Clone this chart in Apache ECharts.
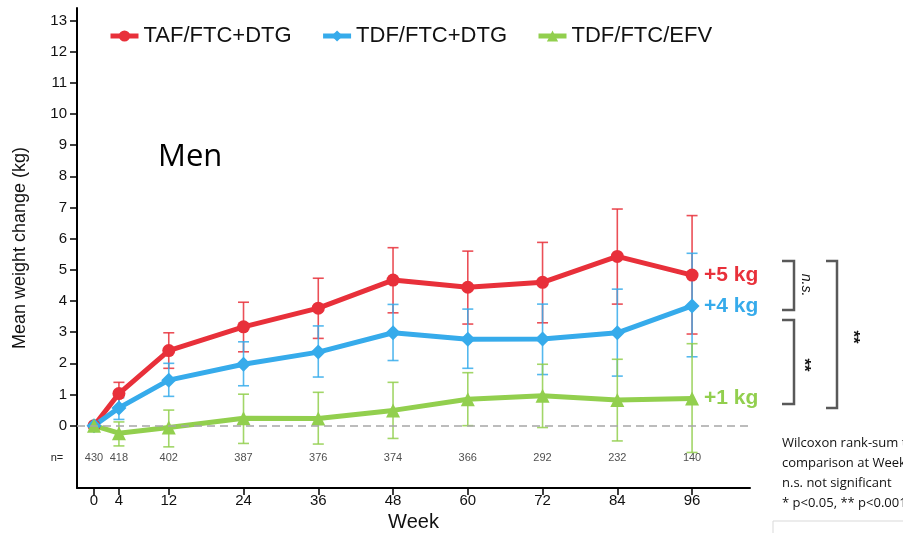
<!DOCTYPE html>
<html>
<head>
<meta charset="utf-8">
<script src="https://cdn.jsdelivr.net/npm/echarts@6/dist/echarts.min.js"></script>
<style>html,body{margin:0;padding:0;background:#fff;}#chart{width:903px;height:533px;}</style>
</head>
<body>
<div id="chart"></div>
<script>
// ---- data ----
const weeks = [0, 4, 12, 24, 36, 48, 60, 72, 84, 96];
const seriesNames = ['TAF/FTC+DTG', 'TDF/FTC+DTG', 'TDF/FTC/EFV'];
const tafMean = [0, 1.03, 2.41, 3.17, 3.77, 4.67, 4.44, 4.60, 5.43, 4.83];
const tafLow  = [0, 0.59, 1.84, 2.37, 2.80, 3.62, 3.26, 3.30, 3.90, 2.94];
const tafHigh = [0, 1.39, 2.98, 3.96, 4.73, 5.71, 5.60, 5.88, 6.95, 6.74];
const dtgMean = [0, 0.57, 1.46, 1.97, 2.36, 2.98, 2.77, 2.78, 2.98, 3.84];
const dtgLow  = [0, 0.20, 0.94, 1.28, 1.56, 2.09, 1.84, 1.64, 1.59, 2.21];
const dtgHigh = [0, 0.90, 2.00, 2.69, 3.20, 3.89, 3.74, 3.90, 4.38, 5.53];
const efvMean = [0, -0.24, -0.06, 0.24, 0.23, 0.49, 0.85, 0.96, 0.82, 0.87];
const efvLow  = [0, -0.65, -0.68, -0.57, -0.59, -0.41, 0.00, -0.06, -0.49, -0.86];
const efvHigh = [0, 0.12, 0.50, 1.01, 1.07, 1.39, 1.70, 1.97, 2.13, 2.63];
const nCounts = [430, 418, 402, 387, 376, 374, 366, 292, 232, 140];
const endLabels = ['+5 kg', '+4 kg', '+1 kg'];
const yTicks = [0,1,2,3,4,5,6,7,8,9,10,11,12,13];
const noteLines = ['Wilcoxon rank-sum test', 'comparison at Week 96', 'n.s. not significant', '* p<0.05, ** p<0.001'];

// ---- styling ----
const colors = ['#E8303A', '#36ABEB', '#92CF4E'];
const symbols = ['circle', 'diamond', 'triangle'];
const symbolSizes = [13, 15, 14];
const FONT = 'Liberation Sans, Arial, sans-serif';
const nRowY = -1.04;

const means = [tafMean, dtgMean, efvMean];
const lows = [tafLow, dtgLow, efvLow];
const highs = [tafHigh, dtgHigh, efvHigh];

const chart = echarts.init(document.getElementById('chart'), null, {renderer: 'canvas'});

const series = [];
// error bars
for (let s = 0; s < 3; s++) {
  const col = colors[s];
  series.push({
    type: 'custom',
    z: 1,
    silent: true,
    encode: {x: 0, y: [1, 2]},
    data: weeks.map((w, i) => [w, lows[s][i], highs[s][i]]).filter(d => d[1] !== d[2]),
    renderItem: function (params, api) {
      const x = api.value(0);
      const pLo = api.coord([x, api.value(1)]);
      const pHi = api.coord([x, api.value(2)]);
      const hw = 5.5;
      const st = {stroke: col, lineWidth: 1.6, opacity: 0.85};
      return {
        type: 'group',
        children: [
          {type: 'line', shape: {x1: pLo[0], y1: pLo[1], x2: pHi[0], y2: pHi[1]}, style: st},
          {type: 'line', shape: {x1: pLo[0] - hw, y1: pLo[1], x2: pLo[0] + hw, y2: pLo[1]}, style: st},
          {type: 'line', shape: {x1: pHi[0] - hw, y1: pHi[1], x2: pHi[0] + hw, y2: pHi[1]}, style: st}
        ]
      };
    }
  });
}
// lines
for (let s = 0; s < 3; s++) {
  series.push({
    name: seriesNames[s],
    type: 'line',
    z: 3,
    data: weeks.map((w, i) => [w, means[s][i]]),
    symbol: symbols[s],
    symbolSize: symbolSizes[s],
    showAllSymbol: true,
    lineStyle: {color: colors[s], width: 5},
    itemStyle: {color: colors[s]},
    endLabel: {
      show: true,
      formatter: endLabels[s],
      color: colors[s],
      fontSize: 21,
      fontWeight: 'bold',
      fontFamily: FONT,
      distance: 12
    }
  });
}
// n= row + zero line
series.push({
  type: 'scatter',
  z: 2,
  silent: true,
  symbolSize: 1,
  itemStyle: {color: 'transparent'},
  data: weeks.map((w, i) => [w, nRowY, nCounts[i]]),
  label: {
    show: true,
    position: 'inside',
    formatter: p => String(p.value[2]),
    fontSize: 11,
    color: '#222',
    fontFamily: FONT
  },
  markLine: {
    silent: true,
    symbol: 'none',
    label: {show: false},
    lineStyle: {color: '#A6A6A6', type: [8, 5], width: 1.6},
    data: [{yAxis: 0}]
  }
});

const option = {
  animation: false,
  backgroundColor: '#fff',
  textStyle: {fontFamily: FONT},
  grid: {left: 77, right: 153, top: 8, bottom: 45, containLabel: false, outerBoundsMode: 'none'},
  legend: {
    data: seriesNames,
    left: 103,
    top: 20,
    itemWidth: 28,
    itemHeight: 14,
    itemGap: 29,
    lineStyle: {width: 5},
    textStyle: {fontSize: 22, color: '#111', fontFamily: FONT}
  },
  xAxis: {
    type: 'value',
    min: -2.73,
    max: 105.3,
    axisLine: {show: true, onZero: false, lineStyle: {color: '#000', width: 2}},
    axisTick: {show: true, customValues: weeks, length: 7, lineStyle: {color: '#000', width: 1.5}},
    axisLabel: {customValues: weeks, fontSize: 15, color: '#111', margin: 5, fontFamily: FONT},
    splitLine: {show: false},
    name: 'Week',
    nameLocation: 'middle',
    nameGap: 24,
    nameTextStyle: {fontSize: 20, color: '#111', fontFamily: FONT}
  },
  yAxis: {
    type: 'value',
    min: -2,
    max: 13.4,
    axisLine: {show: true, onZero: false, lineStyle: {color: '#000', width: 2}},
    axisTick: {show: true, customValues: yTicks, length: 7, lineStyle: {color: '#000', width: 1.5}},
    axisLabel: {customValues: yTicks, fontSize: 15, color: '#111', margin: 10, fontFamily: FONT},
    splitLine: {show: false},
    name: 'Mean weight change (kg)',
    nameLocation: 'middle',
    nameGap: 48,
    nameTextStyle: {fontSize: 18, color: '#111', fontFamily: FONT}
  },
  graphic: [
    {type: 'text', x: 158, y: 157, style: {text: 'Men', font: '31px "Open Sans", sans-serif', fill: '#000', textVerticalAlign: 'middle'}},
    {type: 'text', x: 57, y: 458, style: {text: 'n=', font: '11px ' + FONT, fill: '#222', textAlign: 'center', textVerticalAlign: 'middle'}},
    {type: 'polyline', shape: {points: [[782, 261], [794, 261], [794, 310], [782, 310]]}, style: {stroke: '#595959', lineWidth: 2.5, fill: null}},
    {type: 'polyline', shape: {points: [[782, 320], [794, 320], [794, 404], [782, 404]]}, style: {stroke: '#595959', lineWidth: 2.5, fill: null}},
    {type: 'polyline', shape: {points: [[826, 261], [837, 261], [837, 408], [826, 408]]}, style: {stroke: '#595959', lineWidth: 2.5, fill: null}},
    {type: 'text', x: 806, y: 285, rotation: -Math.PI / 2, style: {text: 'n.s.', font: 'italic 14px ' + FONT, fill: '#111', textAlign: 'center', textVerticalAlign: 'middle'}},
    {type: 'text', x: 804, y: 365, rotation: -Math.PI / 2, style: {text: '**', font: 'bold 17px ' + FONT, fill: '#111', textAlign: 'center', textVerticalAlign: 'middle'}},
    {type: 'text', x: 853, y: 337, rotation: -Math.PI / 2, style: {text: '**', font: 'bold 17px ' + FONT, fill: '#111', textAlign: 'center', textVerticalAlign: 'middle'}},
    {type: 'text', x: 782, y: 443, style: {text: noteLines[0], font: '13px "Open Sans", sans-serif', fill: '#111', textVerticalAlign: 'middle'}},
    {type: 'text', x: 782, y: 463, style: {text: noteLines[1], font: '13px "Open Sans", sans-serif', fill: '#111', textVerticalAlign: 'middle'}},
    {type: 'text', x: 782, y: 483, style: {text: noteLines[2], font: '13px "Open Sans", sans-serif', fill: '#111', textVerticalAlign: 'middle'}},
    {type: 'text', x: 782, y: 503, style: {text: noteLines[3], font: '13px "Open Sans", sans-serif', fill: '#111', textVerticalAlign: 'middle'}},
    {type: 'polyline', shape: {points: [[773, 533], [773, 521], [903, 521]]}, style: {stroke: '#D9D9D9', lineWidth: 1, fill: null}}
  ],
  series: series
};
chart.setOption(option);
</script>
</body>
</html>
